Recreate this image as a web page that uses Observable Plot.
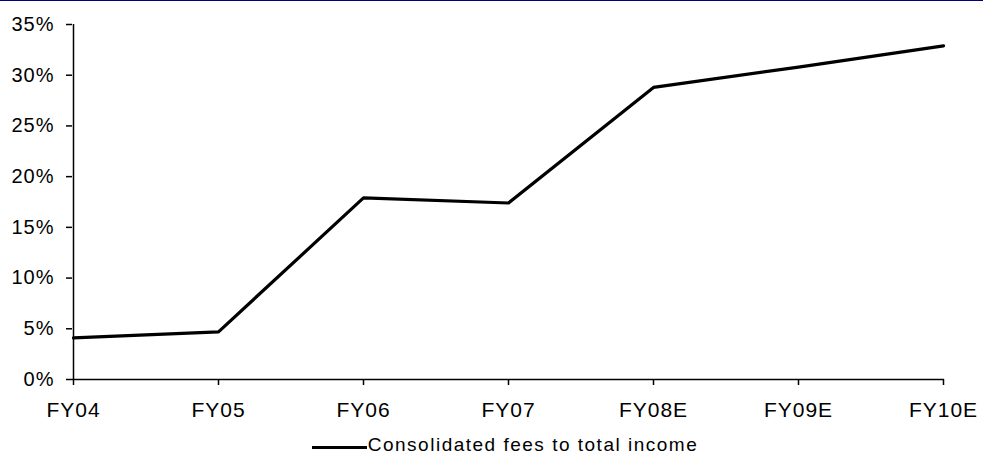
<!DOCTYPE html>
<html>
<head>
<meta charset="utf-8">
<script src="https://cdn.jsdelivr.net/npm/d3@7"></script>
<script src="https://cdn.jsdelivr.net/npm/@observablehq/plot@0.6"></script>
<style>
  html, body { margin: 0; padding: 0; background: #fff; }
  body { width: 983px; height: 454px; overflow: hidden; font-family: "Liberation Sans", Arial, sans-serif; }
  #topbar { height: 1px; width: 983px; background: #000080; }
  #chart svg { display: block; }
  #legend { height: 18px; display: flex; justify-content: center; padding-left: 27px;
            font-size: 19px; letter-spacing: 1.5px; line-height: 18px; color: #000; }
  #legend .swatch { display: inline-block; width: 55px; height: 3px; background: #000; margin-top: 9.5px; margin-right: 1px; }
</style>
</head>
<body>
<div id="topbar"></div>
<div id="chart"></div>
<div id="legend"><span class="swatch"></span><span id="legendText"></span></div>
<script>
const categories = ["FY04", "FY05", "FY06", "FY07", "FY08E", "FY09E", "FY10E"];
const feesToIncome = [4.1, 4.7, 17.9, 17.4, 28.8, 30.8, 32.9];
const yTicks = [0, 5, 10, 15, 20, 25, 30, 35];
const seriesName = "Consolidated fees to total income";

const rows = categories.map((c, i) => ({cat: c, v: feesToIncome[i]}));

const chart = Plot.plot({
  width: 983,
  height: 435,
  marginLeft: 72,
  marginRight: 39,
  marginTop: 23,
  marginBottom: 57,
  style: {
    fontFamily: '"Liberation Sans", Arial, sans-serif',
    fontSize: "20px",
    letterSpacing: "1px",
    color: "black",
    background: "white"
  },
  x: {type: "point", domain: categories, padding: 0},
  y: {domain: [0, 35]},
  marks: [
    Plot.ruleY([0], {stroke: "black", strokeWidth: 1.5}),
    Plot.ruleX([categories[0]], {stroke: "black", strokeWidth: 1.5}),
    Plot.axisY({ticks: yTicks, tickFormat: d => d + "%", tickSize: 6, tickPadding: 12, label: null, strokeWidth: 1.5, fontSize: 20}),
    Plot.axisX({tickSize: 6, tickPadding: 17, label: null, strokeWidth: 1.5, fontSize: 21}),
    Plot.line(rows, {x: "cat", y: "v", stroke: "black", strokeWidth: 3.2})
  ]
});
document.getElementById("chart").appendChild(chart);
document.getElementById("legendText").textContent = seriesName;
</script>
</body>
</html>
